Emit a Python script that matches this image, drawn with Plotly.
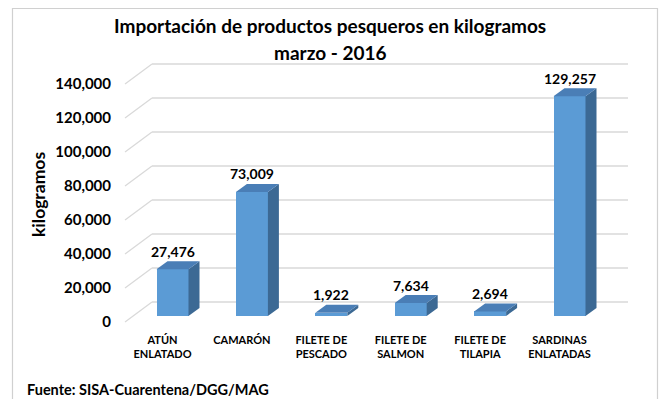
import plotly.graph_objects as go

# ---- data ----
categories = ["ATÚN<br>ENLATADO", "CAMARÓN", "FILETE DE<br>PESCADO",
              "FILETE DE<br>SALMON", "FILETE DE<br>TILAPIA", "SARDINAS<br>ENLATADAS"]
kilogramos = [27476, 73009, 1922, 7634, 2694, 129257]
y_ticks = [0, 20000, 40000, 60000, 80000, 100000, 120000, 140000]
y_tick_labels = [f"{v:,}" for v in y_ticks]

title_line1 = "Importación de productos pesqueros en kilogramos"
title_line2 = "marzo - 2016"
y_title = "kilogramos"
source = "Fuente: SISA-Cuarentena/DGG/MAG"

# ---- geometry (pixels) ----
W, H = 661, 399
L, R, T, B = 122, 634, 58, 328          # plot area
base_px = 316                            # front edge of the bar bases
first_center_px = 172.5
step_px = 79.4                           # distance between categories
px_per_kg = 34 / 20000                   # vertical scale
bar_w_px = 32
depth_dx, depth_dy = 11, 8               # bar depth (oblique projection)
wall_up, floor_down = 14, 6              # back wall / front floor from bar base
wall_left_px, floor_left_px, wall_right_px = 152, 125, 628

xu = 1 / step_px        # data units per pixel (x)
yu = 1 / px_per_kg      # data units per pixel (y)
x0 = -(first_center_px - L) * xu
x1 = x0 + (R - L) * xu
y0 = -(B - base_px) * yu
y1 = (base_px - T) * yu


def px_to_x(p):
    return x0 + (p - L) * xu


def paper_x(p):
    return (p - L) / (R - L)


def paper_y(p):
    return (B - p) / (B - T)


FRONT = "#5B9BD5"
TOP = "#4A7EB6"
SIDE = "#3C6994"
GRID = "#D9D9D9"
FONT = "Lato"

fig = go.Figure()

# back-wall gridlines with their diagonal on the side wall
shapes = []
for v in y_ticks:
    yb = v + wall_up * yu
    yf = v - floor_down * yu
    shapes.append(dict(type="line", xref="x", yref="y", layer="below",
                       x0=px_to_x(wall_left_px), x1=px_to_x(wall_right_px), y0=yb, y1=yb,
                       line=dict(color=GRID, width=1.3)))
    shapes.append(dict(type="line", xref="x", yref="y", layer="below",
                       x0=px_to_x(floor_left_px), x1=px_to_x(wall_left_px), y0=yf, y1=yb,
                       line=dict(color=GRID, width=1.3)))

# chart frame
shapes.append(dict(type="rect", xref="paper", yref="paper",
                   x0=paper_x(12.5), x1=paper_x(657.5), y0=paper_y(410), y1=paper_y(8.5),
                   line=dict(color="#D0D0D0", width=1.2), fillcolor="rgba(0,0,0,0)"))

idx = list(range(len(kilogramos)))
bw = bar_w_px * xu
ddx = depth_dx * xu
ddy = depth_dy * yu

# front faces
fig.add_trace(go.Bar(x=idx, y=kilogramos, width=bw, marker=dict(color=FRONT, line=dict(width=0)),
                     hoverinfo="skip", showlegend=False))

# top and side faces
top_x, top_y, side_x, side_y = [], [], [], []
for i, v in zip(idx, kilogramos):
    xl, xr = i - bw / 2, i + bw / 2
    top_x += [xl, xr, xr + ddx, xl + ddx, xl, None]
    top_y += [v, v, v + ddy, v + ddy, v, None]
    side_x += [xr, xr + ddx, xr + ddx, xr, xr, None]
    side_y += [0, ddy, v + ddy, v, 0, None]

fig.add_trace(go.Scatter(x=side_x, y=side_y, fill="toself", fillcolor=SIDE, mode="lines",
                         line=dict(width=0, color=SIDE), hoverinfo="skip", showlegend=False))
fig.add_trace(go.Scatter(x=top_x, y=top_y, fill="toself", fillcolor=TOP, mode="lines",
                         line=dict(width=0, color=TOP), hoverinfo="skip", showlegend=False))

annotations = []
# value labels
for i, v in zip(idx, kilogramos):
    annotations.append(dict(x=i, y=v, xref="x", yref="y", text=f"<b>{v:,}</b>",
                            showarrow=False, yshift=18,
                            font=dict(family=FONT, size=14, color="#000000")))

# titles and source
annotations += [
    dict(x=paper_x(330), y=paper_y(25), xref="paper", yref="paper", text=f"<b>{title_line1}</b>",
         showarrow=False, xanchor="center", yanchor="middle",
         font=dict(family=FONT, size=19, color="#000000")),
    dict(x=paper_x(330), y=paper_y(53), xref="paper", yref="paper", text=f"<b>{title_line2}</b>",
         showarrow=False, xanchor="center", yanchor="middle",
         font=dict(family=FONT, size=19, color="#000000")),
    dict(x=paper_x(38), y=paper_y(195), xref="paper", yref="paper", text=f"<b>{y_title}</b>",
         showarrow=False, textangle=-90, xanchor="center", yanchor="middle",
         font=dict(family=FONT, size=17.5, color="#000000")),
    dict(x=paper_x(25), y=paper_y(389), xref="paper", yref="paper", text=f"<b>{source}</b>",
         showarrow=False, xanchor="left", yanchor="middle",
         font=dict(family=FONT, size=14.5, color="#000000")),
]

fig.update_layout(
    width=W, height=H,
    margin=dict(l=L, r=W - R, t=T, b=H - B, pad=0),
    paper_bgcolor="white", plot_bgcolor="white",
    shapes=shapes, annotations=annotations,
    xaxis=dict(range=[x0, x1], tickvals=idx, ticktext=[f"<b>{c}</b>" for c in categories],
               showgrid=False, zeroline=False, showline=False, ticks="",
               ticklabelshift=-10, ticklabelstandoff=4,
               tickfont=dict(family=FONT, size=11, color="#000000")),
    yaxis=dict(range=[y0, y1], tickvals=y_ticks, ticktext=[f"<b>{t}</b>" for t in y_tick_labels],
               showgrid=False, zeroline=False, showline=False, ticks="",
               ticklabelshift=6, ticklabelstandoff=10,
               tickfont=dict(family=FONT, size=15, color="#000000")),
    bargap=0,
)

fig.write_html("out.html")
